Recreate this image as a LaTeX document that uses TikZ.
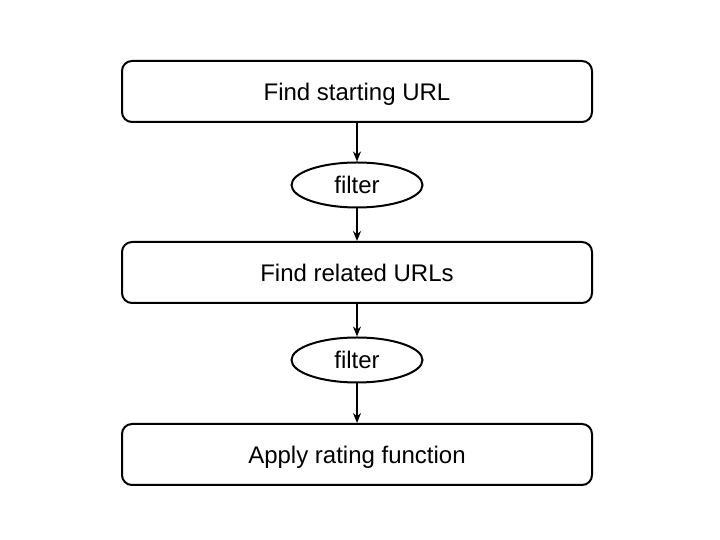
\documentclass[tikz,border=0pt]{standalone}
\usepackage{fontspec}
\setmainfont{Liberation Sans}
\usetikzlibrary{shapes.geometric,arrows.meta}
\begin{document}
\begin{tikzpicture}[x=1pt,y=1pt,
  txt/.style={font=\fontsize{24}{28}\selectfont,text height=17.2pt,text depth=0pt},
  stepbox/.style={txt,draw,line width=2pt,rounded corners=10pt,minimum width=470pt,minimum height=61pt,inner sep=0pt},
  filterell/.style={txt,draw,ellipse,line width=2pt,minimum width=131pt,minimum height=45pt,inner sep=0pt},
  conn/.style={line width=2pt,-{Stealth[length=10pt,width=8pt]}}]
\useasboundingbox (0,0) rectangle (720,540);
\node[stepbox] (b1) at (357,448.5) {Find starting URL};
\node[filterell] (f1) at (357,355) {filter};
\node[stepbox] (b2) at (357,267.5) {Find related URLs};
\node[filterell] (f2) at (357,180) {filter};
\node[stepbox] (b3) at (357,85.5) {Apply rating function};
\draw[conn] (b1) -- (f1);
\draw[conn] (f1) -- (b2);
\draw[conn] (b2) -- (f2);
\draw[conn] (f2) -- (b3);
\end{tikzpicture}
\end{document}
